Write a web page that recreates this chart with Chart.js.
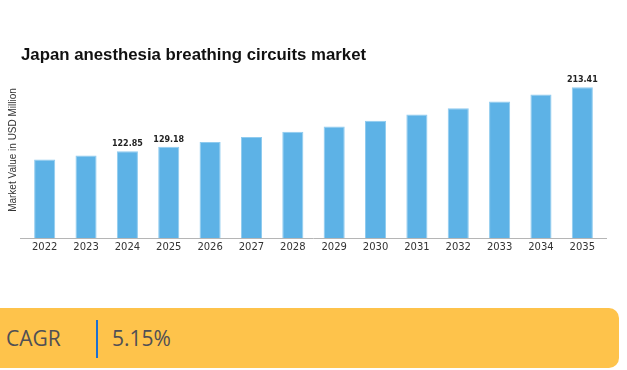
<!DOCTYPE html>
<html>
<head>
<meta charset="utf-8">
<script src="https://cdn.jsdelivr.net/npm/chart.js@4.4.1/dist/chart.umd.min.js"></script>
<style>
  body { margin: 0; background: #fff; width: 627px; height: 370px; overflow: hidden; position: relative; }
  #wrap { position: absolute; left: 0; top: 0; width: 627px; height: 300px; }
  #cagr {
    position: absolute; left: 0; top: 308px; width: 619px; height: 60px;
    background: #fec34b; border-radius: 0 10px 10px 0;
    font-family: "Open Sans", sans-serif; font-size: 21px; color: #4f4f55;
  }
  #cagr .lbl { position: absolute; left: 6px; top: 16px; }
  #cagr .sep { position: absolute; left: 96px; top: 12px; width: 2px; height: 38px; background: #1b6fd1; }
  #cagr .val { position: absolute; left: 112px; top: 16px; }
</style>
</head>
<body>
<div id="wrap"><canvas id="chart"></canvas></div>
<div id="cagr"><span class="lbl">CAGR</span><span class="sep"></span><span class="val">5.15%</span></div>
<script>
  const years = ["2022", "2023", "2024", "2025", "2026", "2027", "2028", "2029", "2030", "2031", "2032", "2033", "2034", "2035"];
  const marketValues = [111.1, 116.8, 122.85, 129.18, 135.8, 142.8, 150.2, 157.9, 166.0, 174.6, 183.6, 193.0, 203.0, 213.41];
  const labelledYears = ["2024", "2025", "2035"];

  const titleText = "Japan anesthesia breathing circuits market";
  const yTitleText = "Market Value in USD Million";

  // title and y axis caption drawn at fixed spots
  const textPlugin = {
    id: "fixedTexts",
    afterDraw(chart) {
      const ctx = chart.ctx;
      ctx.save();
      ctx.font = "bold 16.8px 'Liberation Sans', Arial, sans-serif";
      ctx.fillStyle = "#111";
      ctx.textBaseline = "middle";
      ctx.fillText(titleText, 21, 55);

      ctx.translate(13, 150);
      ctx.rotate(-Math.PI / 2);
      ctx.font = "10px 'Liberation Sans', Arial, sans-serif";
      ctx.fillStyle = "#333";
      ctx.textAlign = "center";
      ctx.fillText(yTitleText, 0, 0);
      ctx.restore();
    }
  };

  // value labels above a few bars + baseline a bit wider than the plot
  const labelPlugin = {
    id: "barLabels",
    afterDatasetsDraw(chart) {
      const ctx = chart.ctx;
      const meta = chart.getDatasetMeta(0);
      const area = chart.chartArea;
      ctx.save();
      ctx.strokeStyle = "#b5b5b5";
      ctx.lineWidth = 1;
      ctx.beginPath();
      ctx.moveTo(area.left - 4, area.bottom + 0.5);
      ctx.lineTo(area.right + 4, area.bottom + 0.5);
      ctx.stroke();

      ctx.font = "bold 8px 'DejaVu Sans', sans-serif";
      ctx.fillStyle = "#222";
      ctx.textAlign = "center";
      ctx.textBaseline = "bottom";
      meta.data.forEach((bar, i) => {
        if (labelledYears.includes(years[i])) {
          ctx.fillText(marketValues[i].toFixed(2), bar.x, bar.y - 3);
        }
      });
      ctx.restore();
    }
  };

  new Chart(document.getElementById("chart"), {
    type: "bar",
    data: {
      labels: years,
      datasets: [{
        data: marketValues,
        backgroundColor: "#5db2e6",
        borderColor: "#8fcbef",
        borderWidth: 1,
        barPercentage: 0.51,
        categoryPercentage: 1
      }]
    },
    options: {
      responsive: true,
      maintainAspectRatio: false,
      animation: false,
      layout: { padding: { top: 79, left: 24, right: 24, bottom: 44 } },
      plugins: {
        legend: { display: false },
        title: { display: false },
        tooltip: { enabled: false }
      },
      scales: {
        x: {
          grid: { display: false, drawTicks: false },
          border: { display: false },
          ticks: {
            padding: 3,
            color: "#333",
            font: { family: "'DejaVu Sans', sans-serif", size: 10 },
            maxRotation: 0
          }
        },
        y: {
          display: false,
          min: 0,
          max: 225
        }
      }
    },
    plugins: [textPlugin, labelPlugin]
  });
</script>
</body>
</html>
